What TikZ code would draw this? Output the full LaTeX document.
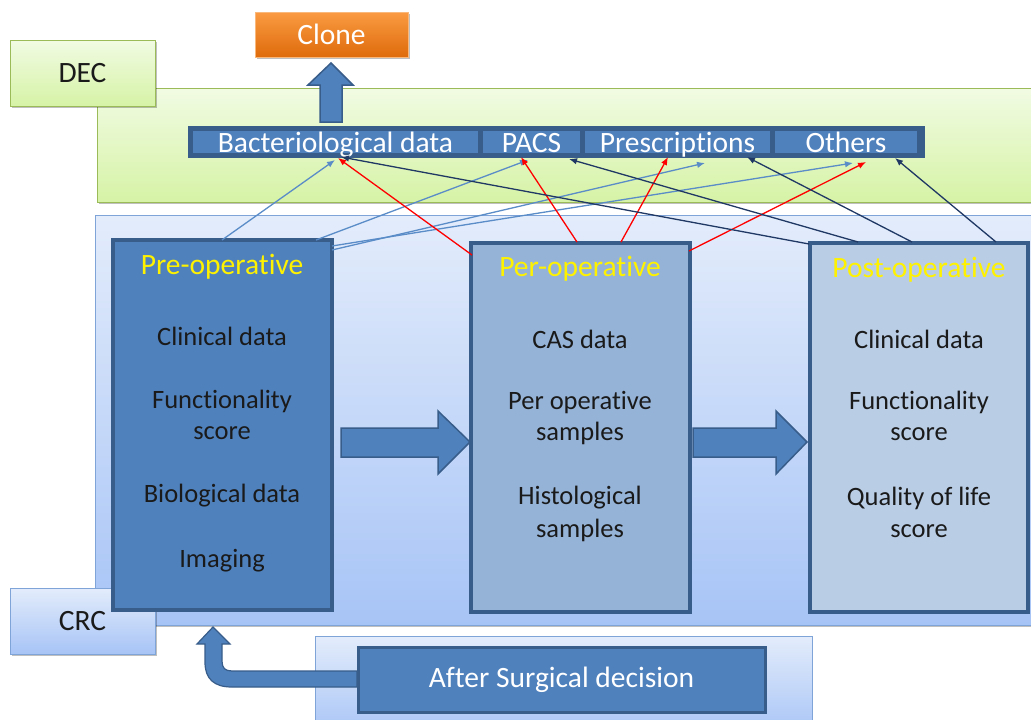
\documentclass[tikz,border=0pt]{standalone}
\usepackage{fontspec}
\setmainfont{Carlito}[Ligatures=NoCommon]
\usetikzlibrary{arrows.meta,shadows,calc}
\definecolor{mblue}{HTML}{4F81BD}
\definecolor{dblue}{HTML}{385D8A}
\definecolor{perfill}{HTML}{95B3D7}
\definecolor{postfill}{HTML}{B9CDE5}
\definecolor{gtop}{HTML}{F1FBE3}
\definecolor{gbot}{HTML}{D6F3A6}
\definecolor{gborder}{HTML}{9BBB59}
\definecolor{btop}{HTML}{E3ECFB}
\definecolor{bbot}{HTML}{A7C4F6}
\definecolor{bborder}{HTML}{7FA4D8}
\definecolor{otop}{HTML}{FA9A42}
\definecolor{obot}{HTML}{DF6C0C}
\definecolor{navy}{HTML}{1F3864}
\definecolor{lblue}{HTML}{5A8CC8}
\definecolor{txt}{HTML}{1A1A1A}
\tikzset{
  shad/.style={drop shadow={shadow xshift=2pt,shadow yshift=-2pt,opacity=0.25,fill=black}},
  greenpanel/.style={draw=gborder,line width=1pt,top color=gtop,bottom color=gbot,inner sep=0,outer sep=0},
  bluepanel/.style={draw=bborder,line width=1pt,top color=btop,bottom color=bbot,inner sep=0,outer sep=0},
  orangebox/.style={draw=otop!70!white,line width=0.8pt,top color=otop,bottom color=obot,inner sep=0,outer sep=0,text=white,font=\fontsize{29.5}{32}\selectfont},
  labelbox/.style={inner sep=0,outer sep=0,text=txt,font=\fontsize{29.5}{32}\selectfont},
  phase/.style={draw=dblue,line width=3.5pt,inner sep=0,outer sep=0},
  cell/.style={fill=mblue,inner sep=0,outer sep=0,text=white,font=\fontsize{29.5}{30}\selectfont},
  celltext/.style={inner sep=0,outer sep=0,anchor=base,text=white,font=\fontsize{29.5}{30}\selectfont},
  title/.style={text=yellow,font=\fontsize{29.5}{32}\selectfont},
  item/.style={text=txt,font=\fontsize{26.5}{30}\selectfont},
  blockarrow/.style={fill=mblue,draw=dblue,line width=1.5pt,line join=miter},
  lb/.style={draw=lblue,line width=1.3pt,-{Latex[length=8pt,width=6.5pt]}},
  rd/.style={draw=red,line width=1.3pt,-{Latex[length=8pt,width=6.5pt]}},
  nv/.style={draw=navy,line width=1.3pt,-{Latex[length=8pt,width=6.5pt]}},
}
\begin{document}
\begin{tikzpicture}[x=1pt,y=-1pt]
\clip (0,0) rectangle (1031,720);
\fill[white] (0,0) rectangle (1031,720);
% panels
\node[greenpanel,shad,minimum width=950,minimum height=114] (green) at (572,145) {};
\node[bluepanel,shad,minimum width=950,minimum height=410] (blue) at (570,420) {};
\node[bluepanel,minimum width=497,minimum height=100] (afterpanel) at (563.5,686) {};
% side labels
\node[greenpanel,labelbox,shad,minimum width=145,minimum height=66] (dec) at (82.5,73) {DEC};
\node[bluepanel,labelbox,shad,minimum width=145,minimum height=66] (crc) at (82.5,621) {CRC};
% clone
\node[orangebox,shad,minimum width=153,minimum height=45] (clone) at (331.5,34.5) {Clone};
% data bar
\node[fill=dblue,inner sep=0,outer sep=0,minimum width=737,minimum height=32] (bar) at (556.5,142) {};
\node[cell,minimum width=285,minimum height=22] (bact) at (335.5,142) {};
\node[cell,minimum width=97,minimum height=22] (pacs) at (531.5,142) {};
\node[cell,minimum width=185,minimum height=22] (presc) at (677.5,142) {};
\node[cell,minimum width=142,minimum height=22] (others) at (846,142) {};
\node[celltext] (bactt) at (335.5,152) {Bacteriological data};
\node[celltext] (pacst) at (531.5,152) {PACS};
\node[celltext] (presct) at (677.5,152) {Prescriptions};
\node[celltext] (otherst) at (846,152) {Others};
% up arrow to clone
\draw[blockarrow] (320,122) -- (320,85) -- (308,85) -- (331,63) -- (353,85) -- (342,85) -- (342,122) -- cycle;
% phase boxes
\node[phase,fill=mblue,minimum width=219,minimum height=370] (pre) at (222.5,425) {};
\node[phase,fill=perfill,minimum width=219,minimum height=369] (per) at (580.5,427.5) {};
\node[phase,fill=postfill,minimum width=218,minimum height=369] (post) at (919,427.5) {};
% texts
\node[title] (pret) at (222,267) {Pre-operative};
\node[item] (pre1) at (222,336) {Clinical data};
\node[item] (pre2) at (222,401) {Functionality};
\node[item] (pre3) at (222,433) {score};
\node[item] (pre4) at (222,496) {Biological data};
\node[item] (pre5) at (222,561) {Imaging};
\node[title] (pert) at (580,269) {Per-operative};
\node[item] (per1) at (580,339) {CAS data};
\node[item] (per2) at (580,403) {Per operative};
\node[item] (per3) at (580,433) {samples};
\node[item] (per4) at (580,498) {Histological};
\node[item] (per5) at (580,530) {samples};
\node[title] (postt) at (919,270) {Post-operative};
\node[item] (post1) at (919,339) {Clinical data};
\node[item] (post2) at (919,402) {Functionality};
\node[item] (post3) at (919,434) {score};
\node[item] (post4) at (919,498) {Quality of life};
\node[item] (post5) at (919,531) {score};
% block arrows between phases
\draw[blockarrow] (341,428) -- (438,428) -- (438,411) -- (470,442) -- (438,474) -- (438,457) -- (341,457) -- cycle;
\draw[blockarrow] (693,428) -- (776,428) -- (776,411) -- (807,442) -- (776,474) -- (776,457) -- (693,457) -- cycle;
% after surgical decision
\node[phase,line width=3pt,fill=mblue,minimum width=407,minimum height=65,text=white,font=\fontsize{29.5}{32}\selectfont] (after) at (561.5,679.5) {After Surgical decision};
\draw[blockarrow,line width=1.2pt] (357,671) -- (232,671) .. controls (225,671) and (222,668) .. (222,661) -- (222,644) -- (230,644) -- (213,627) -- (197,644) -- (205,644) -- (205,662) .. controls (205,679) and (214,687) .. (232,687) -- (357,687) -- cycle;
% connector anchor points
\coordinate (a1) at (222,240);
\coordinate (a2) at (316,240);
\coordinate (a3) at (332,250);
\coordinate (a4) at (332,246);
\coordinate (b1) at (472,255);
\coordinate (b2) at (577,242);
\coordinate (b3) at (621,242);
\coordinate (b4) at (689,251);
\coordinate (c1) at (809,244);
\coordinate (c2) at (858,242);
\coordinate (c3) at (912,242);
\coordinate (c4) at (996,242);
\coordinate (t1) at (335,160);
\coordinate (t2) at (528,160);
\coordinate (t3) at (705,163);
\coordinate (t4) at (853,163);
\coordinate (r1) at (338,158);
\coordinate (r2) at (521,157);
\coordinate (r3) at (668,157);
\coordinate (r4) at (866,162);
\coordinate (n1) at (341,157);
\coordinate (n2) at (569,159);
\coordinate (n3) at (747,157);
\coordinate (n4) at (895,158);
\draw[lb] (a1) -- (t1);
\draw[lb] (a2) -- (t2);
\draw[lb] (a3) -- (t3);
\draw[lb] (a4) -- (t4);
\draw[rd] (b1) -- (r1);
\draw[rd] (b2) -- (r2);
\draw[rd] (b3) -- (r3);
\draw[rd] (b4) -- (r4);
\draw[nv] (c1) -- (n1);
\draw[nv] (c2) -- (n2);
\draw[nv] (c3) -- (n3);
\draw[nv] (c4) -- (n4);
\end{tikzpicture}
\end{document}
